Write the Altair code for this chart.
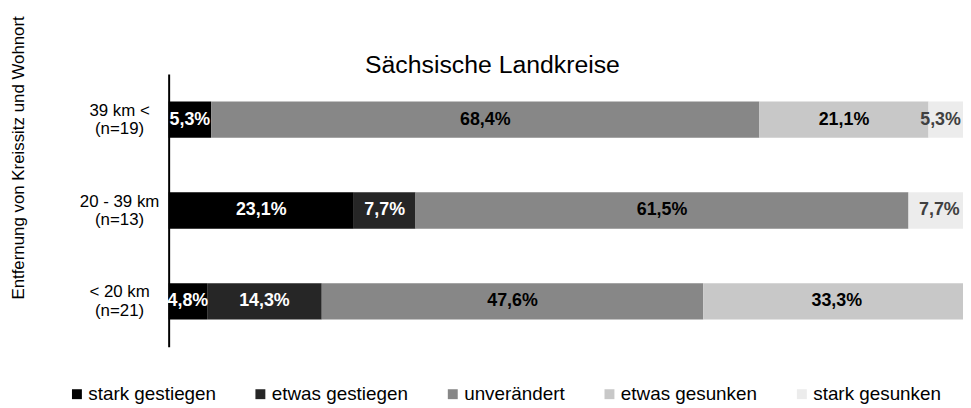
import altair as alt
import pandas as pd

distances = ["39 km <", "20 - 39 km", "< 20 km"]
sample_sizes = ["(n=19)", "(n=13)", "(n=21)"]
categories = ["stark gestiegen", "etwas gestiegen", "unverändert", "etwas gesunken", "stark gesunken"]

stark_gestiegen = [5.3, 23.1, 4.8]
etwas_gestiegen = [0.0, 7.7, 14.3]
unveraendert = [68.4, 61.5, 47.6]
etwas_gesunken = [21.1, 0.0, 33.3]
stark_gesunken = [5.3, 7.7, 0.0]

bar_colors = ["#000000", "#262626", "#878787", "#c8c8c8", "#ececec"]
label_colors = ["#ffffff", "#ffffff", "#000000", "#000000", "#404040"]

series = [stark_gestiegen, etwas_gestiegen, unveraendert, etwas_gesunken, stark_gesunken]
group_labels = [f"{d}|{n}" for d, n in zip(distances, sample_sizes)]

rows = []
for ci, (cat, vals) in enumerate(zip(categories, series)):
    for gi, v in enumerate(vals):
        if v > 0:
            rows.append({"group": group_labels[gi], "cat": cat, "idx": ci,
                         "value": v, "tc": label_colors[ci]})
df = pd.DataFrame(rows)

FONT = "Liberation Sans"
X_MAX = 99.1

base = alt.Chart(df).transform_stack(
    stack="value", as_=["x0", "x1"], groupby=["group"], sort=[alt.SortField("idx")]
)

xscale = alt.Scale(domain=[0, X_MAX], nice=False, zero=True)
yenc = alt.Y(
    "group:N", sort=group_labels,
    scale=alt.Scale(paddingInner=0.6, paddingOuter=0.3),
    axis=alt.Axis(
        title="Entfernung von Kreissitz und Wohnort",
        titleFont=FONT, titleFontSize=17, titleFontWeight="normal", titleColor="#000000",
        titleAngle=270, titleAlign="center", titleBaseline="middle",
        titleX=-151, titleY=84,
        labelExpr="split(datum.label, '|')",
        labelFont=FONT, labelFontSize=17, labelColor="#000000",
        labelAlign="center", labelBaseline="middle", labelPadding=50, labelLineHeight=19,
        labelOffset=-9,
        ticks=False, grid=False, domainColor="#000000", domainWidth=2,
    ),
)

bars = base.mark_bar().encode(
    x=alt.X("x0:Q", scale=xscale, axis=None),
    x2="x1:Q",
    y=yenc,
    color=alt.Color(
        "cat:N",
        scale=alt.Scale(domain=categories, range=bar_colors),
        legend=alt.Legend(
            orient="none", legendX=-102, legendY=313, direction="horizontal", columns=5,
            title=None, symbolType="square", symbolSize=100, symbolStrokeWidth=0,
            labelFont=FONT, labelFontSize=19, labelColor="#000000", labelOffset=2,
            columnPadding=35,
        ),
    ),
    order=alt.Order("idx:Q"),
)

# keep labels inside the visible plot (as the original chart does)
labels = base.transform_calculate(
    xm=f"min((datum.x0 + datum.x1) / 2, {X_MAX} - 2.8)",
    txt="replace(format(datum.value, '.1f'), '.', ',') + '%'",
).mark_text(font=FONT, fontSize=18, fontWeight="bold").encode(
    x=alt.X("xm:Q", scale=xscale, axis=None),
    y=alt.Y("group:N", sort=group_labels),
    text="txt:N",
    color=alt.Color("tc:N", scale=None),
)

chart = alt.layer(bars, labels).properties(
    width=801, height=275,
    autosize=alt.AutoSizeParams(type="none"),
    padding={"left": 162, "top": 65, "right": 0, "bottom": 60},
    title=alt.TitleParams(
        "Sächsische Landkreise", font=FONT, fontSize=25, fontWeight="normal",
        color="#000000", anchor="middle", dx=-74, dy=59, offset=-4,
    ),
).configure_view(stroke=None)

chart.save("out.html", embed_options={"renderer": "svg", "actions": False})
